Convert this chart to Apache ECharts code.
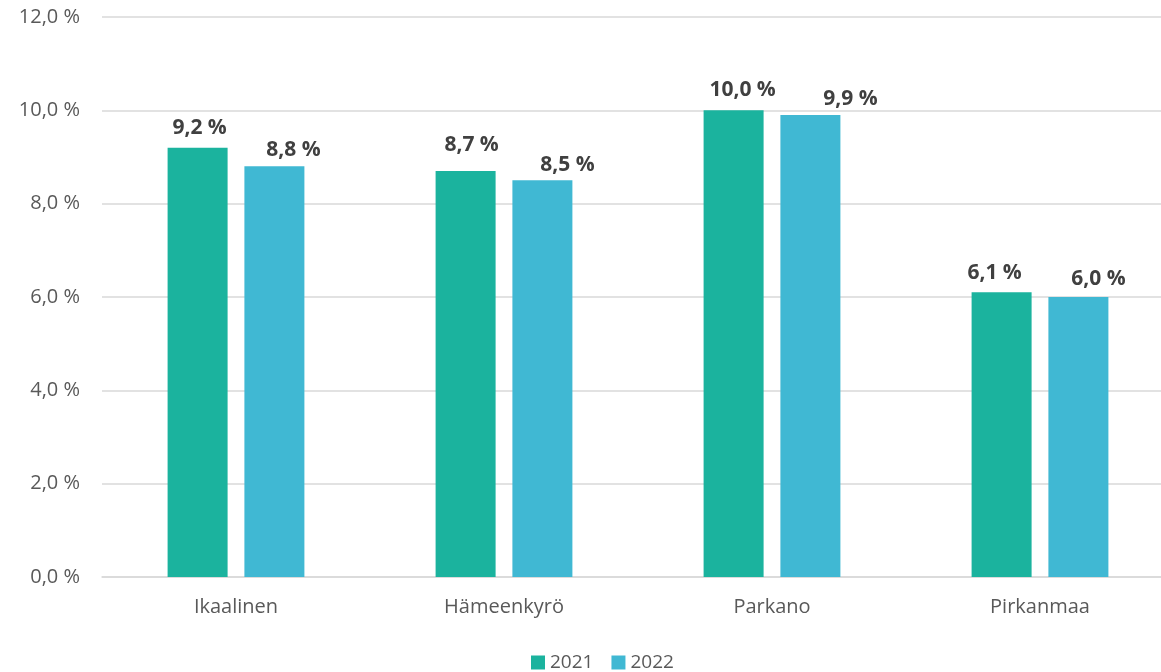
<!DOCTYPE html>
<html><head><meta charset="utf-8">
<script src="https://cdn.jsdelivr.net/npm/echarts@6/dist/echarts.min.js"></script>
<style>html,body{margin:0;padding:0;background:#fff;overflow:hidden}#c{width:1200px;height:672px}</style>
</head><body><div id="c"></div>
<script>
const categories = ['Ikaalinen', 'Hämeenkyrö', 'Parkano', 'Pirkanmaa'];
const series2021 = [9.2, 8.7, 10.0, 6.1];
const series2022 = [8.8, 8.5, 9.9, 6.0];
const seriesNames = ['2021', '2022'];
// manual label nudges as in the original (px)
const labelOffsets2021 = [[2, -9], [6, -15], [9, -10], [-7, -9]];
const labelOffsets2022 = [[19, -6], [25, -5], [40, -5], [20, -7]];
const fmt = v => v.toFixed(1).replace('.', ',') + ' %';
const font = '"Open Sans", Lato, sans-serif';
const chart = echarts.init(document.getElementById('c'));
const lbl = {show: true, position: 'top', distance: 0, formatter: p => fmt(p.value), fontFamily: font, fontSize: 21, fontWeight: 'bold', color: '#404040'};
const mk = (vals, offs) => vals.map((v, i) => ({value: v, label: {offset: offs[i]}}));
chart.setOption({
  animation: false,
  grid: {left: 102, right: 26, top: 17, bottom: 95},
  legend: {top: 648, left: 526, itemWidth: 14, itemHeight: 14, itemGap: 18, icon: 'rect',
    textStyle: {fontFamily: font, fontSize: 19, color: '#595959'}},
  xAxis: {type: 'category', data: categories,
    axisLine: {lineStyle: {color: '#d9d9d9', width: 1.5}}, axisTick: {show: false},
    axisLabel: {fontFamily: font, fontSize: 20, color: '#595959', margin: 20}},
  yAxis: {type: 'value', min: 0, max: 12, interval: 2,
    axisLabel: {formatter: v => fmt(v), fontFamily: font, fontSize: 20, color: '#595959', margin: 22},
    splitLine: {lineStyle: {color: '#d9d9d9', width: 1.5}}},
  series: [
    {name: seriesNames[0], type: 'bar', data: mk(series2021, labelOffsets2021), barWidth: 60, barGap: '28%', itemStyle: {color: '#1BB39E'}, label: lbl},
    {name: seriesNames[1], type: 'bar', data: mk(series2022, labelOffsets2022), barWidth: 60, itemStyle: {color: '#40B8D3'}, label: lbl}
  ]
});
</script></body></html>
